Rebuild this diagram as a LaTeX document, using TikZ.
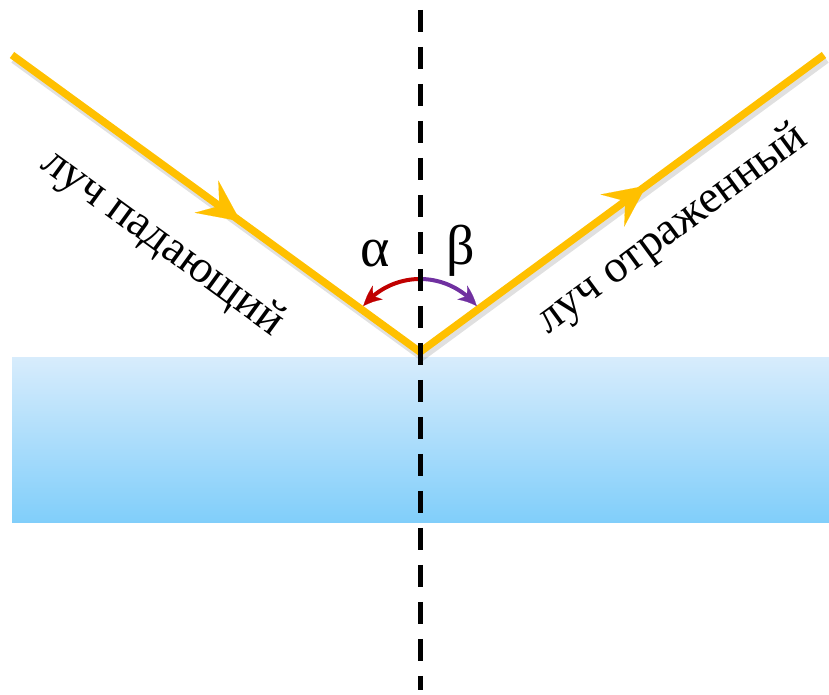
\documentclass[tikz,border=0pt]{standalone}
\usepackage{fontspec}
\setmainfont{Liberation Serif}
\usetikzlibrary{arrows.meta,bending,decorations.markings}
\definecolor{raycol}{RGB}{255,192,0}
\definecolor{watertop}{RGB}{215,236,252}
\definecolor{waterbot}{RGB}{128,206,250}
\definecolor{alphacol}{RGB}{192,0,0}
\definecolor{betacol}{RGB}{112,48,160}

\begin{document}
\begin{tikzpicture}[x=1pt,y=1pt,
  ray/.style={draw=raycol,line width=7.5pt,postaction={decorate},
    decoration={markings,mark=at position 0.56 with
      {\arrow[raycol]{Stealth[length=42pt,width=40pt,inset=16pt,line width=0.1pt]}}}},
  rayshadow/.style={draw=black,opacity=0.12,line width=9pt},
  lbl/.style={font=\fontsize{46}{50}\selectfont},
  greek/.style={font=\fontsize{56}{60}\selectfont},
  angarc/.style={line width=4pt,-{Stealth[length=20pt,width=17pt,inset=6pt,line width=0.1pt,bend]}},
  normal/.style={line width=5pt,dash pattern=on 22pt off 15pt}]
\useasboundingbox (0,0) rectangle (829,695);

% water
\shade[top color=watertop,bottom color=waterbot] (12,172) rectangle (829,337);

\coordinate (inStart) at (12,640);
\coordinate (hit) at (420,343);
\coordinate (outEnd) at (824,640);

% rays
\draw[rayshadow] ([shift={(2,-4)}]inStart) -- ([shift={(2,-4)}]hit) -- ([shift={(2,-4)}]outEnd);
\draw[ray] (inStart) -- node[lbl,text=black,sloped,pos=0.46,below=36pt] (inLabel) {луч падающий} (hit);
\draw[ray] (hit) -- node[lbl,text=black,sloped,pos=0.55,below=23pt] (outLabel) {луч отраженный} (outEnd);

% angles
\coordinate (arcTop) at ([yshift=73pt]hit);
\draw[angarc,alphacol] (arcTop) arc[start angle=90,end angle=141,radius=73];
\draw[angarc,betacol] (arcTop) arc[start angle=90,end angle=39,radius=73];
\node[greek] (alpha) at (375,441) {α};
\node[greek] (beta) at (461,444) {β};

% normal
\coordinate (nTop) at (420,685);
\coordinate (nBot) at (420,5);
\draw[normal] (nTop) -- (nBot);
\end{tikzpicture}
\end{document}
